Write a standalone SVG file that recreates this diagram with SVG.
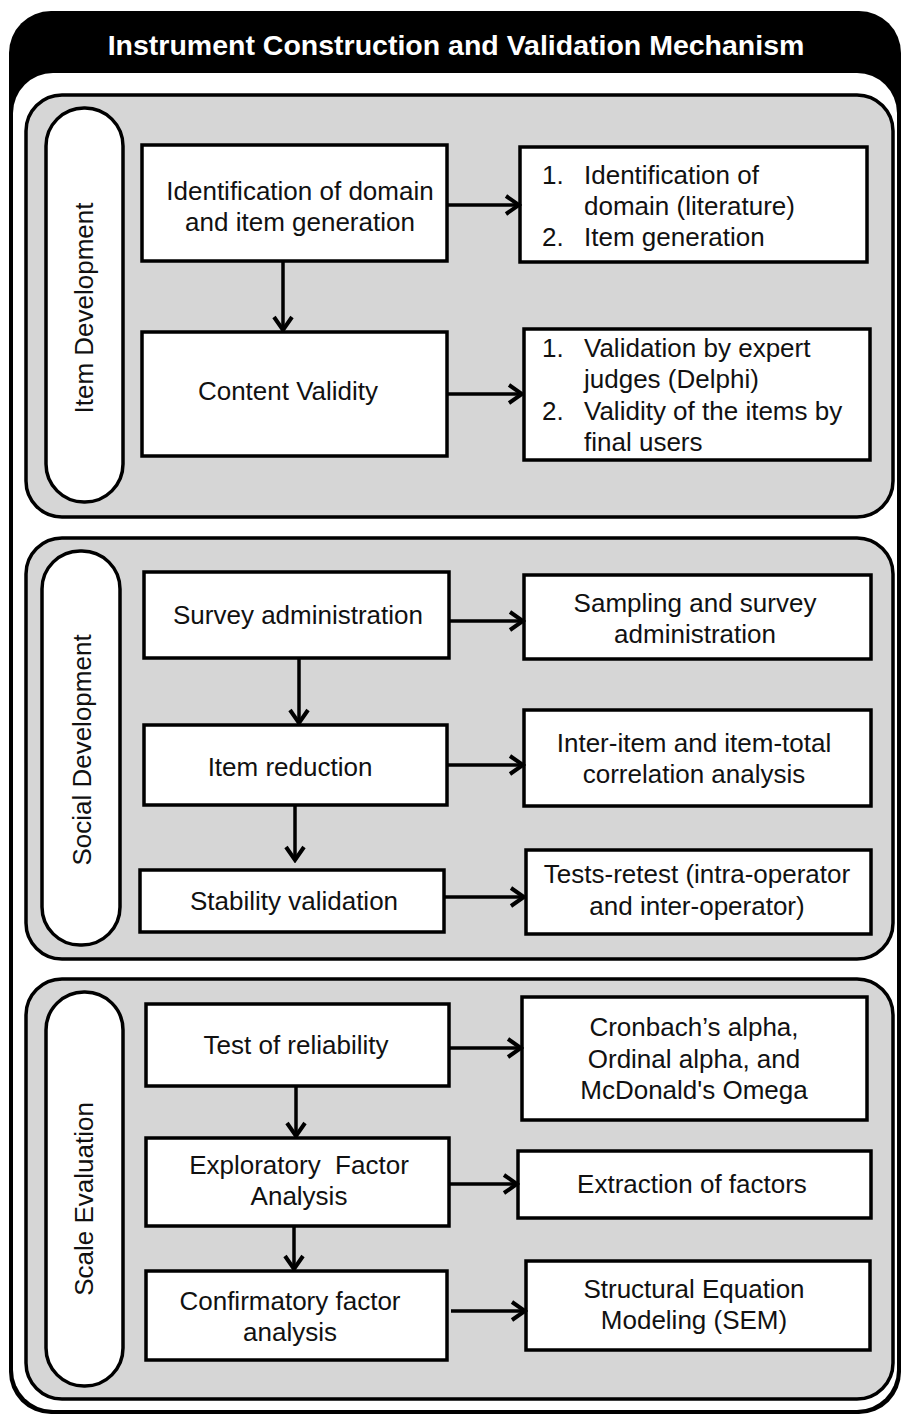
<svg xmlns="http://www.w3.org/2000/svg" width="901" height="1414" viewBox="0 0 901 1414">
<style>
.t{font-family:"Liberation Sans",Arial,sans-serif;font-size:26px;fill:#111}
.c{text-anchor:middle}
.box{fill:#fff;stroke:#000;stroke-width:3.5}
.panel{fill:#d6d6d6;stroke:#000;stroke-width:3.5}
.pill{fill:#fff;stroke:#000;stroke-width:3.5}
.con line{stroke:#000;stroke-width:3.5;marker-end:url(#ah)}
</style>
<defs>
<marker id="ah" markerUnits="userSpaceOnUse" markerWidth="20" markerHeight="24" viewBox="0 0 20 24" refX="17" refY="12" orient="auto">
<path d="M4,3 L17,12 L4,21" fill="none" stroke="#000" stroke-width="4"/>
</marker>
</defs>
<rect width="901" height="1414" fill="#fff"/>
<g id="frame">
<rect x="9" y="11" width="892" height="1403" rx="42" fill="#000"/>
<rect x="13" y="73" width="884" height="1337" rx="40" fill="#fff"/>
<text x="456" y="55" style="font-family:'Liberation Sans',Arial,sans-serif;font-weight:bold;font-size:28.5px;fill:#fff" text-anchor="middle">Instrument Construction and Validation Mechanism</text>
</g>
<g id="panel1">
<rect class="panel" x="26" y="95" width="867" height="422" rx="36"/>
<rect class="pill" x="46" y="108" width="77" height="394" rx="38"/>
<text class="t c" transform="translate(93,308) rotate(-90)">Item Development</text>
</g>
<g id="panel2">
<rect class="panel" x="26" y="538" width="867" height="421" rx="36"/>
<rect class="pill" x="42" y="551" width="78" height="394" rx="38"/>
<text class="t c" transform="translate(91,750) rotate(-90)">Social Development</text>
</g>
<g id="panel3">
<rect class="panel" x="26" y="979" width="867" height="420" rx="36"/>
<rect class="pill" x="46" y="992" width="77" height="394" rx="38"/>
<text class="t c" transform="translate(93,1199) rotate(-90)">Scale Evaluation</text>
</g>
<g id="n1"><rect class="box" x="142" y="145" width="305" height="116"/>
<text class="t c" x="300" y="200">Identification of domain</text><text class="t c" x="300" y="231">and item generation</text></g>
<g id="n1r"><rect class="box" x="520" y="147" width="347" height="115"/>
<text class="t" x="542" y="184">1.</text><text class="t" x="584" y="184">Identification of</text>
<text class="t" x="584" y="215">domain (literature)</text>
<text class="t" x="542" y="246">2.</text><text class="t" x="584" y="246">Item generation</text></g>
<g id="n2"><rect class="box" x="142" y="332" width="305" height="124"/>
<text class="t c" x="288" y="400">Content Validity</text></g>
<g id="n2r"><rect class="box" x="524" y="329" width="346" height="131"/>
<text class="t" x="542" y="357">1.</text><text class="t" x="584" y="357">Validation by expert</text>
<text class="t" x="584" y="388">judges (Delphi)</text>
<text class="t" x="542" y="420">2.</text><text class="t" x="584" y="420">Validity of the items by</text>
<text class="t" x="584" y="451">final users</text></g>
<g id="n3"><rect class="box" x="144" y="572" width="305" height="86"/>
<text class="t c" x="298" y="624">Survey administration</text></g>
<g id="n3r"><rect class="box" x="524" y="575" width="347" height="84"/>
<text class="t c" x="695" y="612">Sampling and survey</text><text class="t c" x="695" y="643">administration</text></g>
<g id="n4"><rect class="box" x="144" y="725" width="303" height="80"/>
<text class="t c" x="290" y="776">Item reduction</text></g>
<g id="n4r"><rect class="box" x="524" y="710" width="347" height="96"/>
<text class="t c" x="694" y="752">Inter-item and item-total</text><text class="t c" x="694" y="783">correlation analysis</text></g>
<g id="n5"><rect class="box" x="140" y="870" width="304" height="62"/>
<text class="t c" x="294" y="910">Stability validation</text></g>
<g id="n5r"><rect class="box" x="526" y="850" width="345" height="84"/>
<text class="t c" x="697" y="883">Tests-retest (intra-operator</text><text class="t c" x="697" y="915">and inter-operator)</text></g>
<g id="n6"><rect class="box" x="146" y="1004" width="303" height="82"/>
<text class="t c" x="296" y="1054">Test of reliability</text></g>
<g id="n6r"><rect class="box" x="522" y="997" width="345" height="123"/>
<text class="t c" x="694" y="1036">Cronbach’s alpha,</text><text class="t c" x="694" y="1068">Ordinal alpha, and</text><text class="t c" x="694" y="1099">McDonald's Omega</text></g>
<g id="n7"><rect class="box" x="146" y="1138" width="303" height="88"/>
<text class="t c" x="299" y="1174" xml:space="preserve">Exploratory  Factor</text><text class="t c" x="299" y="1205">Analysis</text></g>
<g id="n7r"><rect class="box" x="518" y="1151" width="353" height="67"/>
<text class="t c" x="692" y="1193">Extraction of factors</text></g>
<g id="n8"><rect class="box" x="146" y="1271" width="301" height="89"/>
<text class="t c" x="290" y="1310">Confirmatory factor</text><text class="t c" x="290" y="1341">analysis</text></g>
<g id="n8r"><rect class="box" x="526" y="1261" width="344" height="89"/>
<text class="t c" x="694" y="1298">Structural Equation</text><text class="t c" x="694" y="1329">Modeling (SEM)</text></g>
<g id="connectors" class="con">
<line x1="447" y1="205" x2="519" y2="205"/>
<line x1="283" y1="261" x2="283" y2="330"/>
<line x1="447" y1="394" x2="522" y2="394"/>
<line x1="449" y1="621" x2="523" y2="621"/>
<line x1="299" y1="658" x2="299" y2="723"/>
<line x1="447" y1="765" x2="523" y2="765"/>
<line x1="295" y1="805" x2="295" y2="860"/>
<line x1="444" y1="897" x2="524" y2="897"/>
<line x1="449" y1="1048" x2="521" y2="1048"/>
<line x1="296" y1="1086" x2="296" y2="1136"/>
<line x1="449" y1="1184" x2="517" y2="1184"/>
<line x1="294" y1="1226" x2="294" y2="1269"/>
<line x1="451" y1="1311" x2="525" y2="1311"/>
</g>
</svg>
